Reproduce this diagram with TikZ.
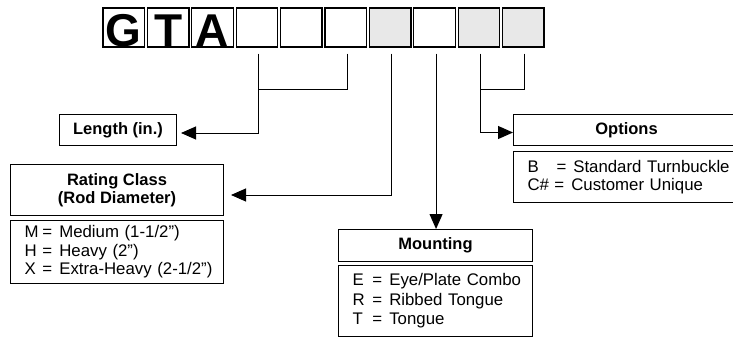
\documentclass[tikz,border=0pt]{standalone}
\usepackage{fontspec}
\setmainfont{Liberation Sans}
\usetikzlibrary{arrows.meta,calc}
\definecolor{cellgray}{gray}{0.91}
\newcommand{\codeline}[3][18pt]{\mbox{\makebox[#1][l]{#2}=\hspace{7pt}#3}}

\begin{document}
\begin{tikzpicture}[x=1pt,y=-1pt,
    cell/.style={draw,line width=1.3pt,minimum width=41.5pt,minimum height=39pt,inner sep=0pt},
    letter/.style={anchor=base,inner sep=0pt,font=\fontsize{46}{46}\selectfont\bfseries},
    head/.style={draw,line width=1pt,inner sep=0pt,align=center,anchor=north west,
                 font=\fontsize{16.5}{18}\selectfont\bfseries},
    body/.style={draw,line width=1pt,inner xsep=14pt,inner ysep=0pt,align=left,anchor=north west,
                 font=\fontsize{16.8}{18.5}\selectfont},
    arr/.style={-{Triangle[length=15pt,width=13pt]}},
    conn/.style={line width=1pt}]
    \clip (0,0) rectangle (733,337);

    % Part number cells
    \foreach \i/\f in {1/white,2/white,3/white,4/white,5/white,6/white,7/cellgray,8/white,9/cellgray,10/cellgray}
        \node[cell,fill=\f] (c\i) at ({123.75+44.4*(\i-1)},27.5) {};
    \node[letter] (lG) at ($(c1.south)+(0,-1.5)$) {G};
    \node[letter] (lT) at ($(c2.south)+(0,-1.5)$) {T};
    \node[letter] (lA) at ($(c3.south)+(0,-1.5)$) {A};

    % Tick points under the cells
    \foreach \i in {4,6,7,8,9,10}
        \coordinate (t\i) at ($(c\i.south)+(1.5,6)$);

    % Length
    \node[head,minimum width=117pt,minimum height=31pt] (lng) at (59,114) {Length (in.)};
    \draw[conn] (t6) |- ($(t4)+(0,36)$);
    \draw[conn,arr,shorten >=4pt] (t4) |- ([yshift=-3pt]lng.east);

    % Rating class
    \node[head,minimum width=213pt,minimum height=51pt] (rhead) at (10,164) {Rating Class\\(Rod Diameter)};
    \node[body,text width=185pt,minimum height=63pt] (rbody) at (10,220)
        {\codeline{M}{Medium (1-1/2”)}\\\codeline{H}{Heavy (2”)}\\\codeline{X}{Extra-Heavy (2-1/2”)}};
    \draw[conn,arr,shorten >=7pt] (t7) |- ([yshift=-5pt]rhead.east);

    % Mounting
    \node[head,minimum width=194pt,minimum height=32pt] (mhead) at (338,229) {Mounting};
    \node[body,text width=166pt,minimum height=71pt,font=\fontsize{16.8}{19.5}\selectfont] (mbody) at (338,265)
        {\codeline[20pt]{E}{Eye/Plate Combo}\\\codeline[20pt]{R}{Ribbed Tongue}\\\codeline[20pt]{T}{Tongue}};
    \draw[conn,arr] (t8) -- (t8 |- mhead.north);

    % Options
    \node[head,minimum width=226pt,minimum height=31pt] (ohead) at (513,114) {Options};
    \node[body,text width=198pt,minimum height=51pt,font=\fontsize{16.8}{17.5}\selectfont] (obody) at (513,151)
        {\codeline[29pt]{B}{Standard Turnbuckle}\\\codeline[27pt]{C\#}{Customer Unique}};
    \draw[conn] (t10) |- ($(t9)+(0,36)$);
    \draw[conn,arr] (t9) |- ([yshift=-2.5pt]ohead.west);
\end{tikzpicture}
\end{document}
